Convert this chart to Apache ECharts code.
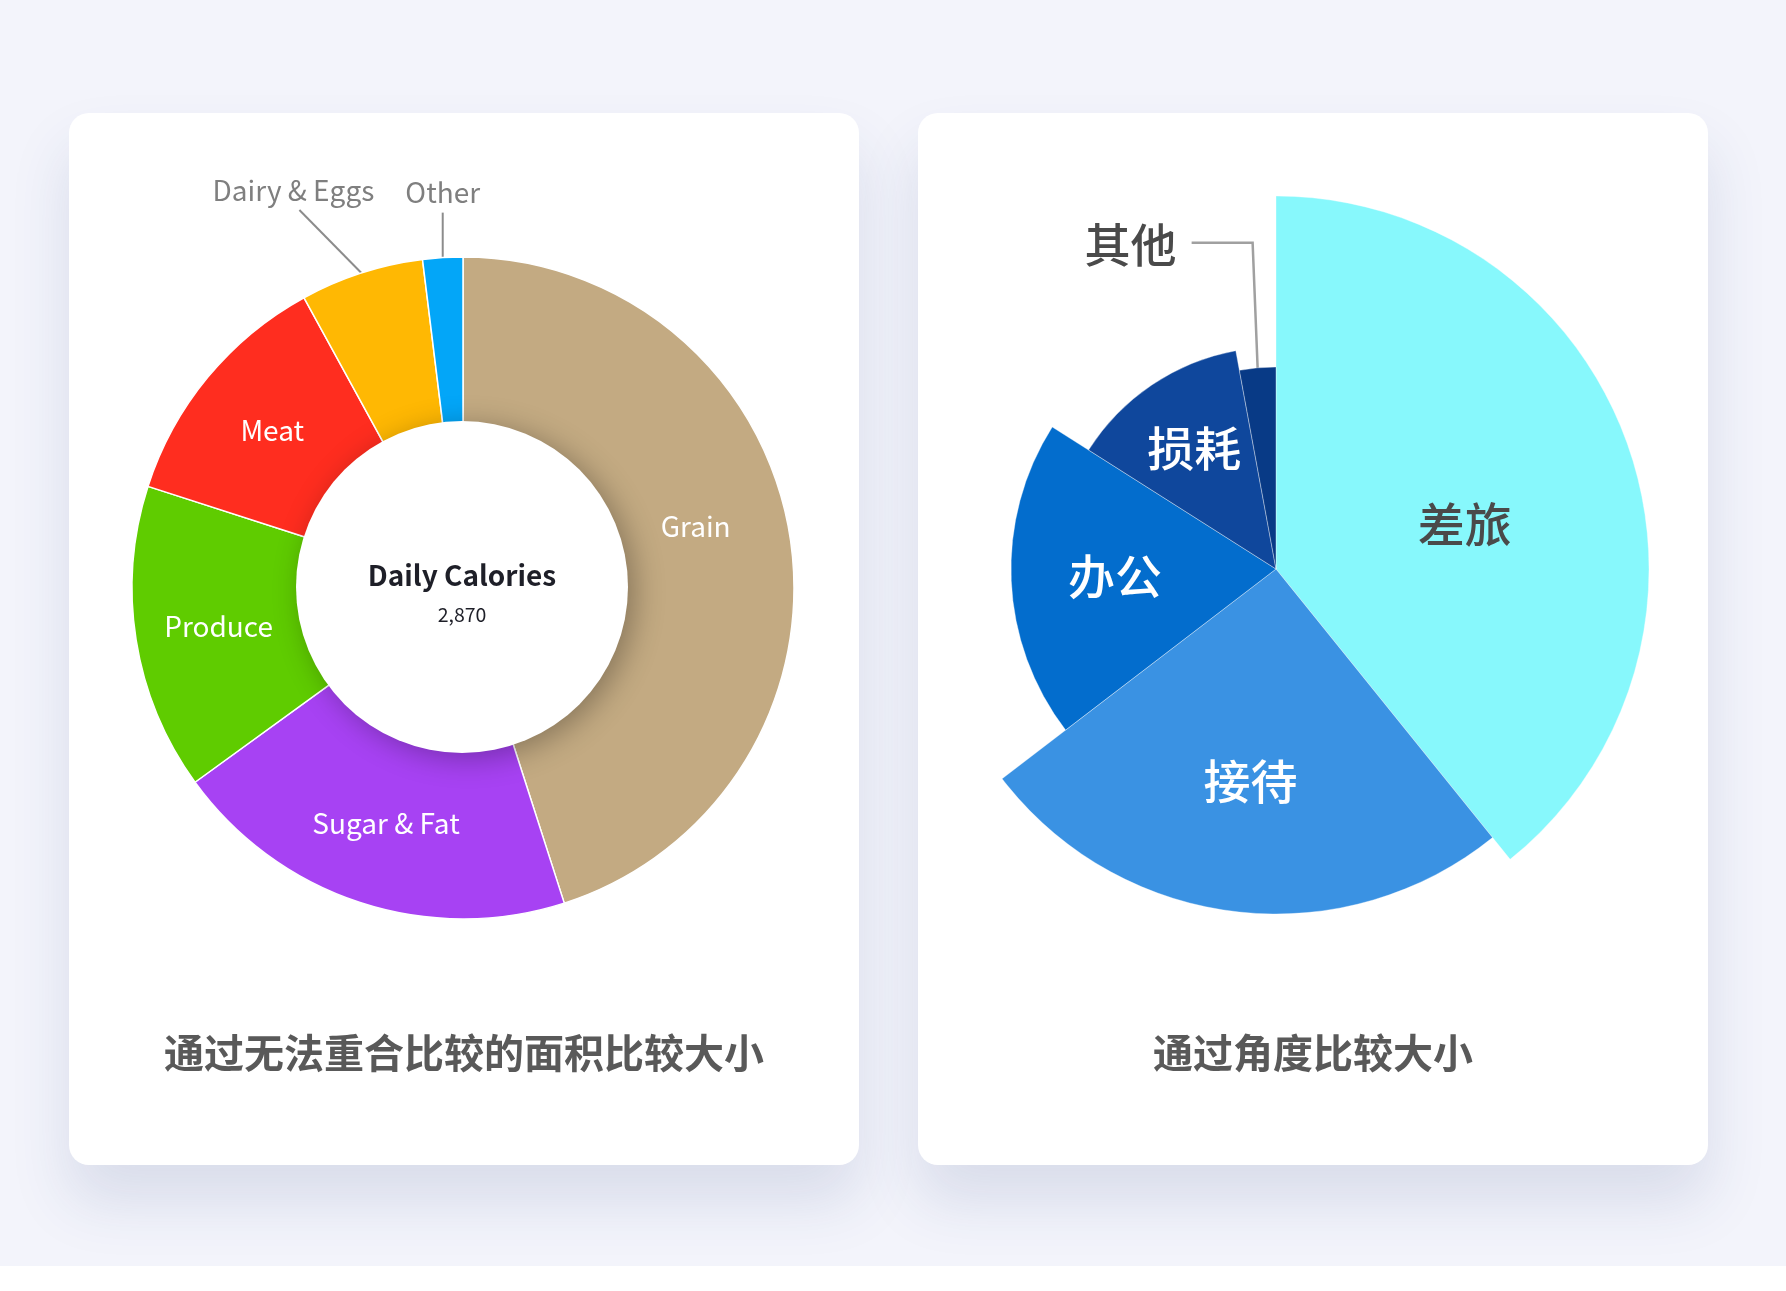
<!DOCTYPE html>
<html><head><meta charset="utf-8">
<script src="https://cdn.jsdelivr.net/npm/echarts@6/dist/echarts.min.js"></script>
<style>html,body{margin:0;padding:0;background:#fff}#c{width:1786px;height:1291px}</style>
</head><body><div id="c"></div>
<script>
// ---- data ----
const calorieCategories = ['Grain', 'Sugar & Fat', 'Produce', 'Meat', 'Dairy & Eggs', 'Other'];
const calorieValues = [1293, 573, 429, 346, 173, 56];
const centerTitle = 'Daily Calories';
const centerValue = '2,870';
const expenseCategories = ['差旅', '接待', '办公', '损耗', '其他'];
const expenseValues = [39.2, 25.4, 19.4, 13.1, 2.9];
const captions = ['通过无法重合比较的面积比较大小', '通过角度比较大小'];

// ---- styles ----
const FONT = '"Noto Sans CJK SC", "Source Sans Pro", sans-serif';
const calorieColors = ['#c3aa82', '#a742f3', '#5fcc00', '#ff2d1f', '#ffb803', '#03a6f8'];
const expenseColors = ['#87f8fc', '#3a92e3', '#036dcd', '#0f479c', '#083a86'];
const expenseRadii = [373, 345, 265, 222, 202];
// label nudges: [rotation in degrees, radial scale]
const calorieLabelNudge = [[-6, 0.973], [0, 1], [0, 1], [0, 1], [0, 1], [0, 1]];
const expenseLabelNudge = [[6, 1.024], [0, 1.22], [0, 1.19], [0, 1.28], [0, 1]];
const expenseLabelColors = ['#4a4a4a', '#ffffff', '#ffffff', '#ffffff', '#4a4a4a'];
const donutCenter = [463, 588];
const roseCenter = [1276, 569];
const outsideLabels = {
  'Dairy & Eggs': { line: [-62, -63], text: [-6, -20] },
  'Other': { line: [0, -45], text: [0, -20] }
};

function nudge(rect, c, rotDeg, s) {
  const lx = rect.x + rect.width / 2, ly = rect.y + rect.height / 2;
  const dx = lx - c[0], dy = ly - c[1];
  const t = rotDeg * Math.PI / 180;
  const rx = dx * Math.cos(t) - dy * Math.sin(t);
  const ry = dx * Math.sin(t) + dy * Math.cos(t);
  return { x: c[0] + rx * s, y: c[1] + ry * s, align: 'center', verticalAlign: 'middle' };
}

const chart = echarts.init(document.getElementById('c'), null, { renderer: 'canvas' });

const donutSeries = {
  type: 'pie',
  center: donutCenter,
  radius: [158, 331],
  startAngle: 90,
  clockwise: true,
  avoidLabelOverlap: false,
  silent: true,
  z: 2,
  itemStyle: { borderColor: '#ffffff', borderWidth: 1.5 },
  label: { show: true, position: 'inside', formatter: '{b}', color: '#ffffff', fontSize: 28, fontFamily: FONT },
  labelLine: { show: false },
  data: calorieCategories.map(function (n, i) {
    const d = { name: n, value: calorieValues[i], itemStyle: { color: calorieColors[i] } };
    if (outsideLabels[n]) {
      d.label = { position: 'outside', color: '#7f7f7f', fontSize: 28, fontFamily: FONT };
      d.labelLine = { show: true, length: 20, length2: 0, lineStyle: { color: '#8c8c8c', width: 2 } };
    }
    return d;
  }),
  labelLayout: function (p) {
    const o = outsideLabels[calorieCategories[p.dataIndex]];
    if (!o) {
      const nd = calorieLabelNudge[p.dataIndex];
      return nudge(p.labelRect, donutCenter, nd[0], nd[1]);
    }
    if (!p.labelLinePoints) return {};
    const p0 = p.labelLinePoints[0];
    const end = [p0[0] + o.line[0], p0[1] + o.line[1]];
    return {
      x: end[0] + o.text[0], y: end[1] + o.text[1],
      align: 'center', verticalAlign: 'middle',
      labelLinePoints: [p0, end]
    };
  }
};

const centerDisk = {
  type: 'pie',
  center: [462, 587],
  radius: [0, 166],
  silent: true,
  z: 4,
  itemStyle: {
    color: '#ffffff',
    shadowBlur: 30, shadowColor: 'rgba(0,0,0,0.3)', shadowOffsetX: 7, shadowOffsetY: 5
  },
  label: {
    show: true, position: 'center',
    formatter: '{a|' + centerTitle + '}\n{b|' + centerValue + '}',
    offset: [0, 8],
    rich: {
      a: { fontFamily: FONT, fontSize: 28, fontWeight: 'bold', color: '#1e1f28', lineHeight: 40 },
      b: { fontFamily: FONT, fontSize: 19.5, color: '#1e1f28', lineHeight: 40 }
    }
  },
  labelLine: { show: false },
  data: [{ name: centerTitle, value: 1 }]
};

const roseSeries = expenseCategories.map(function (_, k) {
  return {
    type: 'pie',
    center: roseCenter,
    radius: [0, expenseRadii[k]],
    startAngle: 90,
    clockwise: true,
    avoidLabelOverlap: false,
    silent: true,
    z: 2,
    data: expenseCategories.map(function (n, i) {
      const vis = i === k;
      return {
        name: n, value: expenseValues[i],
        itemStyle: vis
          ? { color: expenseColors[i], borderColor: 'rgba(255,255,255,0.35)', borderWidth: 1 }
          : { color: 'rgba(0,0,0,0)', borderWidth: 0 },
        label: vis
          ? { show: true, position: (i === 4 ? 'outside' : 'inside'), formatter: '{b}', color: expenseLabelColors[i], fontSize: i === 4 ? 46 : 47, fontWeight: 500, fontFamily: FONT }
          : { show: false },
        labelLine: (vis && i === 4)
          ? { show: true, length: 40, length2: 20, lineStyle: { color: '#a0a0a0', width: 2.5 } }
          : { show: false }
      };
    }),
    labelLayout: function (p) {
      if (p.dataIndex === 4) {
        if (!p.labelLinePoints) return {};
        const p0 = p.labelLinePoints[0];
        const p1 = [p0[0] - 5, p0[1] - 125];
        const p2 = [p1[0] - 61, p1[1]];
        return { x: p2[0] - 15, y: p2[1] + 2, align: 'right', verticalAlign: 'middle', labelLinePoints: [p0, p1, p2] };
      }
      const nd = expenseLabelNudge[p.dataIndex];
      return nudge(p.labelRect, roseCenter, nd[0], nd[1]);
    }
  };
});

const cardShadow = { shadowBlur: 60, shadowOffsetY: 36, shadowColor: 'rgba(40,60,120,0.13)' };

chart.setOption({
  animation: false,
  backgroundColor: '#ffffff',
  graphic: [
    { type: 'rect', z: -20, shape: { x: 0, y: 0, width: 1786, height: 1266 }, style: { fill: '#f3f4fb' }, silent: true },
    { type: 'rect', z: -10, shape: { x: 69, y: 113, width: 790, height: 1052, r: 20 }, style: Object.assign({ fill: '#ffffff' }, cardShadow), silent: true },
    { type: 'rect', z: -10, shape: { x: 918, y: 113, width: 790, height: 1052, r: 20 }, style: Object.assign({ fill: '#ffffff' }, cardShadow), silent: true },
    { type: 'rect', z: -5, shape: { x: 0, y: 1266, width: 1786, height: 25 }, style: { fill: '#ffffff' }, silent: true },
    { type: 'text', z: 10, x: 464, y: 1053, style: { text: captions[0], fill: '#595959', font: 'bold 40px ' + FONT, textAlign: 'center', textVerticalAlign: 'middle' }, silent: true },
    { type: 'text', z: 10, x: 1313, y: 1053, style: { text: captions[1], fill: '#595959', font: 'bold 40px ' + FONT, textAlign: 'center', textVerticalAlign: 'middle' }, silent: true }
  ],
  series: [donutSeries, centerDisk].concat(roseSeries)
});
</script>
</body></html>
